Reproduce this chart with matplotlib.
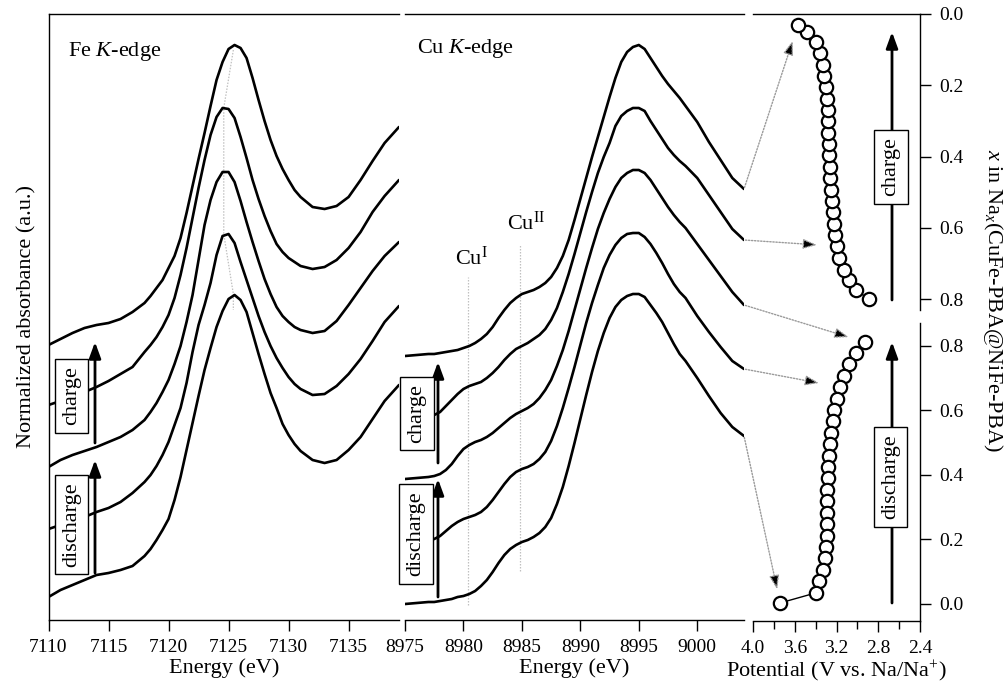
import matplotlib
matplotlib.use('Agg')
import matplotlib.pyplot as plt
from matplotlib.patches import ConnectionPatch, FancyArrowPatch

plt.rcParams['font.family'] = ['Liberation Serif', 'DejaVu Serif']
plt.rcParams['mathtext.fontset'] = 'custom'
plt.rcParams['mathtext.rm'] = 'Liberation Serif'
plt.rcParams['mathtext.it'] = 'Liberation Serif:italic'
plt.rcParams['mathtext.bf'] = 'Liberation Serif:bold'

# ---------------- Fe K-edge XANES (offset, top = charged) ----------------
fe_energy = [7110, 7111, 7112, 7113, 7114, 7115, 7116, 7117,
             7118, 7118.5, 7119, 7119.5, 7120, 7120.5, 7121, 7121.5, 7122, 7122.5, 7123,
             7123.5, 7124, 7124.5, 7125, 7125.5, 7126, 7126.5, 7127, 7127.5, 7128, 7128.5,
             7129, 7129.5, 7130, 7130.5, 7131,
             7132, 7133, 7134, 7135, 7136, 7137, 7138, 7139.2]
fe_1 = [2.75, 2.81, 2.87, 2.92, 2.95, 2.97, 3.01, 3.08,
        3.17, 3.24, 3.32, 3.40, 3.52, 3.64, 3.82, 4.07, 4.34, 4.61, 4.87, 5.14, 5.40, 5.58,
        5.71, 5.75, 5.72, 5.62, 5.42, 5.20, 4.99, 4.80, 4.64, 4.51, 4.40, 4.30, 4.23,
        4.13, 4.11, 4.14, 4.23, 4.40, 4.59, 4.77, 4.93]
fe_2 = [2.15, 2.19, 2.23, 2.28, 2.33, 2.39, 2.46, 2.53,
        2.68, 2.75, 2.83, 2.93, 3.05, 3.22, 3.45, 3.72, 4.02, 4.32, 4.60, 4.85, 5.03, 5.12,
        5.11, 5.02, 4.83, 4.62, 4.40, 4.21, 4.04, 3.89, 3.76, 3.68, 3.62, 3.58, 3.54,
        3.51, 3.53, 3.60, 3.72, 3.88, 4.08, 4.24, 4.40]
fe_3 = [1.53, 1.60, 1.65, 1.69, 1.73, 1.78, 1.83, 1.90,
        2.00, 2.08, 2.17, 2.28, 2.40, 2.56, 2.74, 2.98, 3.25, 3.60, 3.95, 4.20, 4.38, 4.48,
        4.48, 4.38, 4.19, 3.98, 3.78, 3.59, 3.41, 3.26, 3.13, 3.04, 2.98, 2.93, 2.90,
        2.87, 2.89, 2.99, 3.15, 3.32, 3.49, 3.64, 3.78]
fe_4 = [0.91, 0.95, 0.99, 1.03, 1.08, 1.12, 1.18, 1.27,
        1.38, 1.45, 1.54, 1.65, 1.78, 1.95, 2.12, 2.37, 2.68, 2.95, 3.15, 3.37, 3.65, 3.84,
        3.86, 3.77, 3.58, 3.40, 3.22, 3.04, 2.88, 2.74, 2.62, 2.52, 2.43, 2.36, 2.31,
        2.25, 2.26, 2.34, 2.46, 2.61, 2.79, 2.98, 3.14]
fe_5 = [0.23, 0.30, 0.35, 0.40, 0.45, 0.47, 0.50, 0.54,
        0.64, 0.71, 0.80, 0.90, 1.01, 1.20, 1.43, 1.70, 1.97, 2.24, 2.50, 2.72, 2.93, 3.09,
        3.21, 3.25, 3.20, 3.08, 2.87, 2.66, 2.46, 2.27, 2.12, 1.96, 1.85, 1.76, 1.69,
        1.60, 1.57, 1.60, 1.70, 1.83, 2.01, 2.19, 2.35]
fe_peak_energy = [7125.4, 7124.6, 7124.6, 7124.6, 7125.4, 7125.4]
fe_peak_level = [5.70, 5.12, 4.49, 3.86, 3.26, 3.10]
fe_ticks = [7110, 7115, 7120, 7125, 7130, 7135]

# ---------------- Cu K-edge XANES ----------------
cu_energy = [8975, 8976, 8977, 8977.5, 8978, 8978.5, 8979, 8979.5, 8980, 8980.5, 8981,
             8981.5, 8982, 8982.5, 8983, 8983.5, 8984, 8984.5, 8985, 8985.5, 8986, 8986.5,
             8987, 8987.5, 8988, 8988.5, 8989, 8989.5, 8990, 8990.5, 8991, 8991.5, 8992,
             8992.5, 8993, 8993.5, 8994, 8994.5, 8995, 8995.5, 8996, 8996.5, 8997, 8997.5,
             8998, 8998.5, 8999, 9000, 9001, 9002, 9003, 9004]
cu_1 = [2.64, 2.65, 2.66, 2.66, 2.67, 2.68, 2.69, 2.70, 2.72, 2.74, 2.77, 2.81, 2.86, 2.93,
        3.02, 3.10, 3.17, 3.22, 3.26, 3.28, 3.30, 3.33, 3.37, 3.43, 3.52, 3.64, 3.80, 4.00,
        4.21, 4.42, 4.63, 4.83, 5.03, 5.23, 5.42, 5.58, 5.68, 5.73, 5.75, 5.71, 5.62, 5.53,
        5.44, 5.36, 5.29, 5.22, 5.14, 4.98, 4.78, 4.60, 4.42, 4.31]
cu_2 = [2.02, 2.02, 2.03, 2.05, 2.08, 2.14, 2.20, 2.26, 2.31, 2.34, 2.36, 2.38, 2.42, 2.47,
        2.53, 2.60, 2.66, 2.71, 2.74, 2.77, 2.81, 2.85, 2.91, 3.00, 3.12, 3.28, 3.46, 3.66,
        3.87, 4.08, 4.28, 4.47, 4.63, 4.77, 4.94, 5.04, 5.09, 5.12, 5.12, 5.09, 4.99, 4.90,
        4.81, 4.72, 4.65, 4.59, 4.54, 4.42, 4.25, 4.08, 3.91, 3.80]
cu_3 = [1.41, 1.42, 1.43, 1.44, 1.46, 1.50, 1.56, 1.64, 1.71, 1.75, 1.78, 1.80, 1.83, 1.87,
        1.92, 1.97, 2.02, 2.06, 2.09, 2.12, 2.16, 2.22, 2.30, 2.40, 2.54, 2.70, 2.89, 3.10,
        3.31, 3.52, 3.72, 3.91, 4.07, 4.21, 4.33, 4.42, 4.47, 4.50, 4.50, 4.47, 4.40, 4.31,
        4.22, 4.13, 4.05, 3.98, 3.92, 3.76, 3.60, 3.44, 3.28, 3.15]
cu_4 = [0.79, 0.79, 0.80, 0.81, 0.84, 0.89, 0.94, 0.98, 1.01, 1.03, 1.05, 1.08, 1.13, 1.20,
        1.28, 1.36, 1.43, 1.48, 1.51, 1.53, 1.56, 1.61, 1.68, 1.79, 1.94, 2.12, 2.32, 2.53,
        2.75, 2.97, 3.17, 3.35, 3.52, 3.65, 3.75, 3.82, 3.86, 3.87, 3.87, 3.83, 3.76, 3.67,
        3.57, 3.46, 3.36, 3.28, 3.22, 3.04, 2.88, 2.73, 2.59, 2.51]
cu_5 = [0.16, 0.17, 0.18, 0.18, 0.19, 0.20, 0.21, 0.23, 0.24, 0.26, 0.29, 0.34, 0.40, 0.48,
        0.57, 0.65, 0.71, 0.75, 0.78, 0.80, 0.83, 0.87, 0.93, 1.02, 1.16, 1.33, 1.54, 1.77,
        2.01, 2.25, 2.48, 2.69, 2.87, 3.02, 3.13, 3.20, 3.24, 3.26, 3.26, 3.23, 3.15, 3.07,
        2.98, 2.87, 2.76, 2.66, 2.59, 2.42, 2.24, 2.07, 1.93, 1.84]
cu1_energy, cu1_span = 8980.4, [0.15, 3.43]
cu2_energy, cu2_span = 8984.8, [0.49, 3.76]
cu_ticks = [8975, 8980, 8985, 8990, 8995, 9000]

# ---------------- charge / discharge curves ----------------
charge_x = [0.800, 0.774, 0.746, 0.718, 0.684, 0.651, 0.620, 0.589, 0.555, 0.525, 0.494,
            0.460, 0.429, 0.396, 0.365, 0.334, 0.300, 0.269, 0.238, 0.205, 0.174, 0.143,
            0.109, 0.079, 0.050, 0.031]
charge_V = [2.89, 3.01, 3.08, 3.13, 3.18, 3.20, 3.21, 3.22, 3.23, 3.24, 3.25, 3.26, 3.26,
            3.27, 3.27, 3.28, 3.28, 3.28, 3.29, 3.30, 3.32, 3.33, 3.36, 3.40, 3.48, 3.57]
discharge_x = [0.812, 0.778, 0.744, 0.707, 0.673, 0.636, 0.602, 0.567, 0.530, 0.496, 0.459,
               0.425, 0.391, 0.353, 0.319, 0.282, 0.248, 0.211, 0.177, 0.143, 0.105, 0.071,
               0.034, 0.003]
discharge_V = [2.93, 3.01, 3.08, 3.13, 3.17, 3.20, 3.22, 3.23, 3.25, 3.26, 3.27, 3.28, 3.28,
               3.29, 3.29, 3.29, 3.29, 3.29, 3.30, 3.31, 3.33, 3.37, 3.40, 3.74]
pot_major = [4.0, 3.6, 3.2, 2.8, 2.4]
pot_minor = [3.8, 3.4, 3.0, 2.6]
x_ticks = [0.0, 0.2, 0.4, 0.6, 0.8]

# ---------------- layout ----------------
W, H = 1007, 690
fig = plt.figure(figsize=(W / 100, H / 100), dpi=100)


def rect(l, t, r, b):
    return [l / W, 1 - b / H, (r - l) / W, (b - t) / H]


def fpt(x, y):
    return (x / W, 1 - y / H)


ax_fe = fig.add_axes(rect(48.5, 14, 399, 620))
ax_cu = fig.add_axes(rect(405, 14, 744, 620))
ax_ch = fig.add_axes(rect(753, 14, 920, 310))
ax_dis = fig.add_axes(rect(753, 323, 920, 621))

LW = 1.9
TS = 14
LS = 16
GUIDE = dict(color='#c0c0c0', lw=0.9, ls=(0, (1.2, 1.2)), zorder=2)

# Fe panel
for y in (fe_1, fe_2, fe_3, fe_4, fe_5):
    ax_fe.plot(fe_energy, y, color='black', lw=LW, solid_joinstyle='round',
               solid_capstyle='round', zorder=3)
ax_fe.plot(fe_peak_energy, fe_peak_level, **GUIDE)
ax_fe.set_xlim(7110, 7139.2)
ax_fe.set_ylim(0, 6.06)
ax_fe.set_xticks(fe_ticks)
ax_fe.set_yticks([])
ax_fe.spines['right'].set_visible(False)
ax_fe.set_xlabel('Energy (eV)', fontsize=LS, labelpad=1)
ax_fe.set_ylabel('Normalized absorbance (a.u.)', fontsize=LS, labelpad=9)
ax_fe.text(7111.6, 5.64, r'Fe $\mathit{K}$-edge', fontsize=LS, ha='left', va='baseline')

# Cu panel
for y in (cu_1, cu_2, cu_3, cu_4, cu_5):
    ax_cu.plot(cu_energy, y, color='black', lw=LW, solid_joinstyle='round',
               solid_capstyle='round', zorder=3)
ax_cu.plot([cu1_energy, cu1_energy], cu1_span, **GUIDE)
ax_cu.plot([cu2_energy, cu2_energy], cu2_span, **GUIDE)
ax_cu.set_xlim(8975, 9004.0)
ax_cu.set_ylim(0, 6.06)
ax_cu.set_xticks(cu_ticks)
ax_cu.set_yticks([])
ax_cu.spines['left'].set_visible(False)
ax_cu.spines['right'].set_visible(False)
ax_cu.set_xlabel('Energy (eV)', fontsize=LS, labelpad=1)
ax_cu.text(8976.0, 5.67, r'Cu $\mathit{K}$-edge', fontsize=LS, ha='left', va='baseline')
ax_cu.text(8979.3, 3.55, r'Cu$^{\mathrm{I}}$', fontsize=LS, ha='left', va='baseline')
ax_cu.text(8983.7, 3.90, r'Cu$^{\mathrm{II}}$', fontsize=LS, ha='left', va='baseline')

# potential panels
mk = dict(marker='o', ms=9.6, mfc='white', mec='black', mew=1.6, color='black', lw=1.0, clip_on=False)
ax_ch.plot(charge_V, charge_x, **mk)
ax_dis.plot(discharge_V, discharge_x, **mk)
for ax in (ax_ch, ax_dis):
    ax.set_xlim(4.0, 2.4)
    ax.spines['left'].set_visible(False)
    ax.yaxis.tick_right()
    ax.set_yticks(x_ticks)
    ax.set_yticklabels([f'{v:.1f}' for v in x_ticks])
ax_ch.set_ylim(0.830, 0.0)
ax_dis.set_ylim(-0.053, 0.871)
ax_ch.spines['bottom'].set_visible(False)
ax_ch.set_xticks([])
ax_dis.spines['top'].set_visible(False)
ax_dis.set_xticks(pot_major)
ax_dis.set_xticks(pot_minor, minor=True)
ax_dis.set_xticklabels([f'{v:.1f}' for v in pot_major])
ax_dis.set_xlabel(r'Potential (V vs. Na/Na$^{+}$)', fontsize=LS, labelpad=1)

for ax in (ax_fe, ax_cu, ax_ch, ax_dis):
    for s in ax.spines.values():
        s.set_linewidth(1.0)
    ax.tick_params(axis='both', which='both', direction='out', length=8, width=1.0,
                   labelsize=TS, pad=6)
ax_dis.tick_params(axis='x', which='minor', length=6)

fig.text(993 / W, 1 - 300 / H, r'$x$ in Na$_{x}$(CuFe-PBA@NiFe-PBA)', rotation=270,
         fontsize=LS, ha='center', va='center')

# charge / discharge boxes and arrows
def varrow(x, y0, y1):
    fig.add_artist(FancyArrowPatch(fpt(x, y0), fpt(x, y1), transform=fig.transFigure,
                                   arrowstyle='-|>,head_length=0.6,head_width=0.22',
                                   mutation_scale=16, lw=2.0, color='black',
                                   shrinkA=0, shrinkB=0, zorder=4))


def lbox(x, y, s):
    fig.text(x / W, 1 - y / H, s, rotation=90, ha='center', va='center', fontsize=LS,
             bbox=dict(boxstyle='square,pad=0.33', fc='white', ec='black', lw=1.0), zorder=6)


varrow(95, 443, 342); lbox(71.5, 396, 'charge')
varrow(95, 573, 460); lbox(71.5, 524.5, 'discharge')
varrow(438, 463, 362); lbox(417, 413.5, 'charge')
varrow(438, 597, 479); lbox(416, 534, 'discharge')
varrow(892, 300, 32); lbox(891, 167, 'charge')
varrow(892, 603, 342); lbox(890.5, 477, 'discharge')

# dotted connectors from the Cu spectra to the electrochemistry
def connect(yarr, axB, V, x, shrink):
    con = ConnectionPatch(xyA=(cu_energy[-1], yarr[-1]), coordsA=ax_cu.transData,
                          xyB=(V, x), coordsB=axB.transData,
                          arrowstyle='-|>,head_length=0.7,head_width=0.25', mutation_scale=12,
                          shrinkA=1, shrinkB=shrink, ls=(0, (1, 1.2)), lw=1.0,
                          edgecolor='#9a9a9a', facecolor='black', zorder=5)
    fig.add_artist(con)


connect(cu_1, ax_ch, charge_V[-1], charge_x[-1], 12)
connect(cu_2, ax_ch, charge_V[5], charge_x[5], 14)
connect(cu_3, ax_dis, discharge_V[0], discharge_x[0], 12)
connect(cu_4, ax_dis, discharge_V[4], discharge_x[4], 15)
connect(cu_5, ax_dis, discharge_V[-1], discharge_x[-1], 10)

fig.savefig('out.png', dpi=100)
